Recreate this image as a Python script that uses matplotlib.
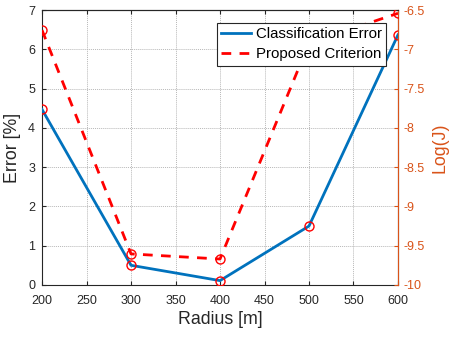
import matplotlib
matplotlib.use("Agg")
import matplotlib.pyplot as plt
from matplotlib.lines import Line2D

plt.rcParams['font.family'] = ['Liberation Sans', 'DejaVu Sans']

radius = [200, 300, 400, 500, 600]
class_error = [4.47, 0.5, 0.11, 1.5, 6.37]
criterion = [-6.755, -9.605, -9.67, -6.92, -6.54]

x_ticks = [200, 250, 300, 350, 400, 450, 500, 550, 600]
left_ticks = [0, 1, 2, 3, 4, 5, 6, 7]
right_ticks = [-10, -9.5, -9, -8.5, -8, -7.5, -7, -6.5]
right_labels = ['-10', '-9.5', '-9', '-8.5', '-8', '-7.5', '-7', '-6.5']

BLUE = '#0072BD'
ORANGE = '#D95319'
DARK = '#262626'

fig = plt.figure(figsize=(4.52, 3.38), dpi=100)
ax = fig.add_axes([0.093, 0.157, 0.7875, 0.813])
ax2 = ax.twinx()

ax.plot(radius, class_error, color=BLUE, lw=2, zorder=3)
ax2.plot(radius, criterion, color='red', lw=2, ls=(0, (3.5, 3)), zorder=3)
ax2.plot(radius, criterion, ls='none', marker='o', ms=6.5, mfc='none', mec='red', mew=1, zorder=4)
# circles on classification error (mapped through left axis)
ax.plot(radius, class_error, ls='none', marker='o', ms=6.5, mfc='none', mec='red', mew=1, zorder=4)

ax.set_xlim(200, 600)
ax.set_ylim(0, 7)
ax2.set_ylim(-10, -6.5)
ax.set_xticks(x_ticks)
ax.set_yticks(left_ticks)
ax2.set_yticks(right_ticks)
ax2.set_yticklabels(right_labels)

ax.grid(True, color='#b8b8b8', ls=(0, (1, 1)), lw=0.7)
ax.set_axisbelow(True)

ax.tick_params(axis='both', direction='in', labelsize=9, colors=DARK, length=3, top=True)
ax.tick_params(axis='x', pad=7)
ax.tick_params(axis='y', right=False, pad=5)
ax2.tick_params(axis='y', direction='in', labelsize=9, colors=ORANGE, length=3, pad=4)

for s in ['left', 'bottom', 'top']:
    ax.spines[s].set_color(DARK)
ax2.spines['right'].set_color(ORANGE)
ax2.spines['left'].set_visible(False)
ax2.spines['top'].set_color(DARK)
ax2.spines['bottom'].set_visible(False)

ax.set_xlabel('Radius [m]', fontsize=12.8, color=DARK, labelpad=3)
ax.set_ylabel('Error [%]', fontsize=12.8, color=DARK, labelpad=5)
ax2.set_ylabel('Log(J)', fontsize=12.8, color=ORANGE, labelpad=5)

handles = [Line2D([], [], color=BLUE, lw=2),
           Line2D([], [], color='red', lw=2, ls=(0, (3.5, 3)))]
leg = ax2.legend(handles, ['Classification Error', 'Proposed Criterion'],
                 loc='upper right', bbox_to_anchor=(0.967, 0.955), fontsize=10.8,
                 fancybox=False, framealpha=1, edgecolor=DARK, handlelength=2.0,
                 borderpad=0.3, labelspacing=0.4, handletextpad=0.3, borderaxespad=0)
leg.get_frame().set_linewidth(0.8)
leg.set_zorder(10)

fig.savefig('out.png', dpi=100)
